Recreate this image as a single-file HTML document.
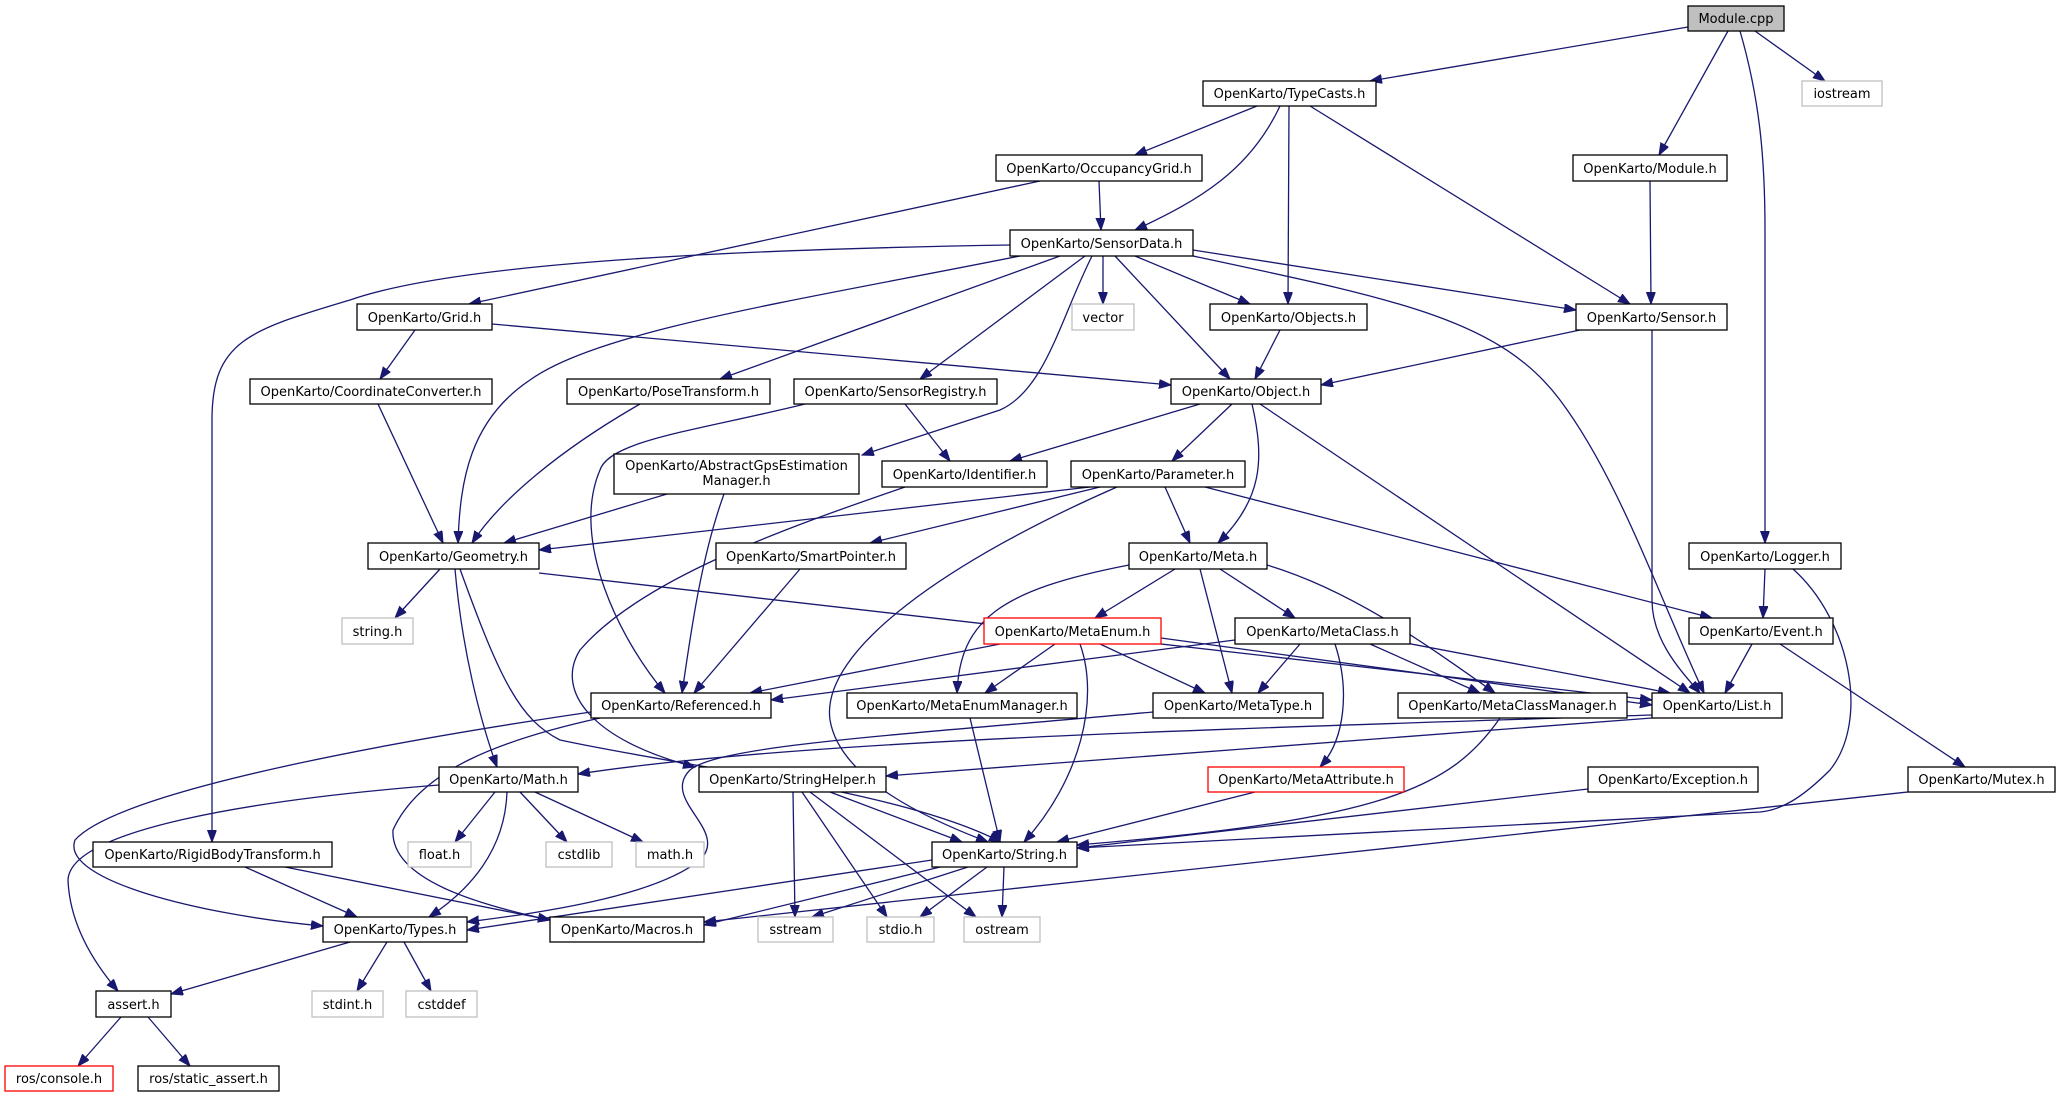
<!DOCTYPE html>
<html><head><meta charset="utf-8"><style>
html,body{margin:0;padding:0;background:#fff}
svg{display:block}
text{font-family:"DejaVu Sans","Liberation Sans",sans-serif;font-size:13px;fill:#000;text-anchor:middle}
.e{fill:none;stroke:#191970;stroke-width:1.3;marker-end:url(#a)}
.n{fill:#fff;stroke:#000;stroke-width:1.3}
.g{fill:#fff;stroke:#bfbfbf;stroke-width:1.3}
.r{fill:#fff;stroke:#ff0000;stroke-width:1.3}
</style></head><body>
<svg width="2059" height="1097" viewBox="0 0 2059 1097" xmlns="http://www.w3.org/2000/svg">
<defs><marker id="a" markerUnits="userSpaceOnUse" markerWidth="13" markerHeight="10" refX="12" refY="4.5" orient="auto"><path d="M0,0 L12,4.5 L0,9 z" fill="#191970" stroke="#191970"/></marker></defs>
<g>
<path class="e" d="M1688,27 L1370,81"/>
<path class="e" d="M1728,31 L1659,155"/>
<path class="e" d="M1755,31 L1825,81"/>
<path class="e" d="M1740,31 C1760,100 1765,160 1765,230 L1765,543"/>
<path class="e" d="M1257,106 L1135,155"/>
<path class="e" d="M1280,106 C1250,170 1200,200 1135,230"/>
<path class="e" d="M1289,106 L1288,304"/>
<path class="e" d="M1310,106 L1630,304"/>
<path class="e" d="M1099,181 L1101,230"/>
<path class="e" d="M1040,181 L469,304"/>
<path class="e" d="M1650,181 L1651,304"/>
<path class="e" d="M1010,245 C700,250 450,265 350,300 C250,330 212,340 212,420 L212,842"/>
<path class="e" d="M1020,256 C800,300 600,330 530,380 C470,420 460,480 458,543"/>
<path class="e" d="M1060,256 L720,379"/>
<path class="e" d="M1085,256 L920,379"/>
<path class="e" d="M1092,256 C1060,320 1045,390 1000,410 L862,455"/>
<path class="e" d="M1103,256 L1103,304"/>
<path class="e" d="M1115,256 L1230,379"/>
<path class="e" d="M1135,256 L1250,304"/>
<path class="e" d="M1193,250 L1576,310"/>
<path class="e" d="M1193,256 C1400,300 1500,320 1560,400 C1620,480 1660,600 1704,693"/>
<path class="e" d="M415,330 L380,379"/>
<path class="e" d="M492,324 L1171,385"/>
<path class="e" d="M1280,330 L1255,379"/>
<path class="e" d="M1580,330 L1321,385"/>
<path class="e" d="M1652,330 L1652,600 C1652,640 1680,670 1700,693"/>
<path class="e" d="M378,404 L443,543"/>
<path class="e" d="M640,404 C560,450 500,500 472,543"/>
<path class="e" d="M905,404 L950,461"/>
<path class="e" d="M805,404 C700,430 610,440 600,470 C570,540 620,640 665,693"/>
<path class="e" d="M667,494 L504,543"/>
<path class="e" d="M724,494 C700,560 690,640 682,693"/>
<path class="e" d="M1200,404 L1010,461"/>
<path class="e" d="M1232,404 L1172,461"/>
<path class="e" d="M1252,404 C1265,460 1262,500 1218,543"/>
<path class="e" d="M1260,404 L1690,693"/>
<path class="e" d="M905,487 C780,530 640,580 580,650 C555,690 590,740 695,767"/>
<path class="e" d="M1090,487 L539,550"/>
<path class="e" d="M1100,487 L870,543"/>
<path class="e" d="M1117,487 C950,560 820,650 830,720 C840,780 930,820 988,842"/>
<path class="e" d="M1165,487 L1190,543"/>
<path class="e" d="M1205,487 L1712,618"/>
<path class="e" d="M440,569 L395,618"/>
<path class="e" d="M455,569 C462,650 480,720 497,767"/>
<path class="e" d="M460,569 C500,680 520,720 560,740 C700,770 900,790 1001,842"/>
<path class="e" d="M539,573 L1652,700"/>
<path class="e" d="M800,569 L694,693"/>
<path class="e" d="M1175,569 L1095,618"/>
<path class="e" d="M1220,569 L1295,618"/>
<path class="e" d="M1200,569 L1232,693"/>
<path class="e" d="M1129,565 C1000,590 960,620 957,693"/>
<path class="e" d="M1267,565 C1350,590 1420,640 1495,693"/>
<path class="e" d="M1765,569 L1763,618"/>
<path class="e" d="M1793,569 C1850,620 1870,720 1830,770 C1800,800 1780,810 1760,812 L1077,848"/>
<path class="e" d="M1000,644 L750,693"/>
<path class="e" d="M1055,644 L985,693"/>
<path class="e" d="M1100,644 L1205,693"/>
<path class="e" d="M1080,644 C1100,700 1080,780 1024,842"/>
<path class="e" d="M1161,638 L1652,705"/>
<path class="e" d="M1235,640 L771,700"/>
<path class="e" d="M1300,644 L1258,693"/>
<path class="e" d="M1370,644 L1480,693"/>
<path class="e" d="M1390,640 L1670,693"/>
<path class="e" d="M1335,644 C1350,690 1345,740 1320,767"/>
<path class="e" d="M1752,644 L1725,693"/>
<path class="e" d="M1780,644 L1965,767"/>
<path class="e" d="M591,712 C400,740 120,790 75,840 C60,880 200,915 323,926"/>
<path class="e" d="M600,718 C500,740 420,770 393,830 C390,880 480,905 550,920"/>
<path class="e" d="M1153,712 C900,735 720,745 690,770 C660,800 730,830 700,860 C650,900 520,915 467,922"/>
<path class="e" d="M970,718 L1000,842"/>
<path class="e" d="M1500,718 C1450,790 1380,820 1077,845"/>
<path class="e" d="M1652,715 C1200,730 800,740 578,774"/>
<path class="e" d="M1652,718 L886,776"/>
<path class="e" d="M439,785 C250,800 70,830 68,880 C70,930 100,970 118,991"/>
<path class="e" d="M495,792 L455,842"/>
<path class="e" d="M520,792 L567,842"/>
<path class="e" d="M535,792 L643,842"/>
<path class="e" d="M507,792 C505,850 470,890 429,917"/>
<path class="e" d="M830,792 L962,842"/>
<path class="e" d="M793,792 L795,917"/>
<path class="e" d="M802,792 L887,917"/>
<path class="e" d="M810,792 L976,917"/>
<path class="e" d="M1255,792 L1057,842"/>
<path class="e" d="M1588,789 L1077,848"/>
<path class="e" d="M1908,792 L704,922"/>
<path class="e" d="M245,867 L357,917"/>
<path class="e" d="M285,867 L550,920"/>
<path class="e" d="M932,860 L467,930"/>
<path class="e" d="M940,867 L704,925"/>
<path class="e" d="M968,867 L812,917"/>
<path class="e" d="M987,867 L920,917"/>
<path class="e" d="M1004,867 L1002,917"/>
<path class="e" d="M350,942 L171,994"/>
<path class="e" d="M387,942 L357,991"/>
<path class="e" d="M404,942 L431,991"/>
<path class="e" d="M121,1017 L78,1066"/>
<path class="e" d="M148,1017 L190,1066"/>
</g>
<g>
<rect x="1688" y="6" width="96" height="25" fill="#bfbfbf" stroke="#000" stroke-width="1.3"/><text x="1736" y="23">Module.cpp</text>
<rect class="g" x="1802" y="81" width="80" height="25"/><text x="1842" y="98">iostream</text>
<rect class="n" x="1203" y="81" width="173" height="25"/><text x="1289.5" y="98">OpenKarto/TypeCasts.h</text>
<rect class="n" x="996" y="155" width="206" height="26"/><text x="1099" y="173">OpenKarto/OccupancyGrid.h</text>
<rect class="n" x="1573" y="155" width="154" height="26"/><text x="1650" y="173">OpenKarto/Module.h</text>
<rect class="n" x="1010" y="230" width="183" height="26"/><text x="1101.5" y="248">OpenKarto/SensorData.h</text>
<rect class="n" x="357" y="304" width="135" height="26"/><text x="424.5" y="322">OpenKarto/Grid.h</text>
<rect class="g" x="1072" y="304" width="62" height="26"/><text x="1103" y="322">vector</text>
<rect class="n" x="1210" y="304" width="157" height="26"/><text x="1288.5" y="322">OpenKarto/Objects.h</text>
<rect class="n" x="1576" y="304" width="151" height="26"/><text x="1651.5" y="322">OpenKarto/Sensor.h</text>
<rect class="n" x="250" y="379" width="242" height="25"/><text x="371" y="396">OpenKarto/CoordinateConverter.h</text>
<rect class="n" x="567" y="379" width="203" height="25"/><text x="668.5" y="396">OpenKarto/PoseTransform.h</text>
<rect class="n" x="794" y="379" width="203" height="25"/><text x="895.5" y="396">OpenKarto/SensorRegistry.h</text>
<rect class="n" x="1171" y="379" width="150" height="25"/><text x="1246" y="396">OpenKarto/Object.h</text>
<rect class="n" x="614" y="454" width="245" height="40"/><text x="736.5" y="470">OpenKarto/AbstractGpsEstimation</text><text x="736.5" y="485">Manager.h</text>
<rect class="n" x="882" y="461" width="165" height="26"/><text x="964.5" y="479">OpenKarto/Identifier.h</text>
<rect class="n" x="1071" y="461" width="174" height="26"/><text x="1158" y="479">OpenKarto/Parameter.h</text>
<rect class="n" x="368" y="543" width="171" height="26"/><text x="453.5" y="561">OpenKarto/Geometry.h</text>
<rect class="n" x="716" y="543" width="190" height="26"/><text x="811" y="561">OpenKarto/SmartPointer.h</text>
<rect class="n" x="1129" y="543" width="138" height="26"/><text x="1198" y="561">OpenKarto/Meta.h</text>
<rect class="n" x="1689" y="543" width="152" height="26"/><text x="1765" y="561">OpenKarto/Logger.h</text>
<rect class="g" x="342" y="618" width="71" height="26"/><text x="377.5" y="636">string.h</text>
<rect class="r" x="984" y="618" width="177" height="26"/><text x="1072.5" y="636">OpenKarto/MetaEnum.h</text>
<rect class="n" x="1235" y="618" width="175" height="26"/><text x="1322.5" y="636">OpenKarto/MetaClass.h</text>
<rect class="n" x="1689" y="618" width="144" height="26"/><text x="1761" y="636">OpenKarto/Event.h</text>
<rect class="n" x="591" y="693" width="180" height="25"/><text x="681" y="710">OpenKarto/Referenced.h</text>
<rect class="n" x="847" y="693" width="230" height="25"/><text x="962" y="710">OpenKarto/MetaEnumManager.h</text>
<rect class="n" x="1153" y="693" width="170" height="25"/><text x="1238" y="710">OpenKarto/MetaType.h</text>
<rect class="n" x="1398" y="693" width="229" height="25"/><text x="1512.5" y="710">OpenKarto/MetaClassManager.h</text>
<rect class="n" x="1652" y="693" width="130" height="25"/><text x="1717" y="710">OpenKarto/List.h</text>
<rect class="n" x="439" y="767" width="139" height="25"/><text x="508.5" y="784">OpenKarto/Math.h</text>
<rect class="n" x="699" y="767" width="187" height="25"/><text x="792.5" y="784">OpenKarto/StringHelper.h</text>
<rect class="r" x="1208" y="767" width="196" height="25"/><text x="1306" y="784">OpenKarto/MetaAttribute.h</text>
<rect class="n" x="1588" y="767" width="170" height="25"/><text x="1673" y="784">OpenKarto/Exception.h</text>
<rect class="n" x="1908" y="767" width="147" height="25"/><text x="1981.5" y="784">OpenKarto/Mutex.h</text>
<rect class="n" x="93" y="842" width="239" height="25"/><text x="212.5" y="859">OpenKarto/RigidBodyTransform.h</text>
<rect class="g" x="408" y="842" width="63" height="25"/><text x="439.5" y="859">float.h</text>
<rect class="g" x="546" y="842" width="66" height="25"/><text x="579" y="859">cstdlib</text>
<rect class="g" x="636" y="842" width="68" height="25"/><text x="670" y="859">math.h</text>
<rect class="n" x="932" y="842" width="145" height="25"/><text x="1004.5" y="859">OpenKarto/String.h</text>
<rect class="n" x="323" y="917" width="144" height="25"/><text x="395" y="934">OpenKarto/Types.h</text>
<rect class="n" x="550" y="917" width="154" height="25"/><text x="627" y="934">OpenKarto/Macros.h</text>
<rect class="g" x="758" y="917" width="75" height="25"/><text x="795.5" y="934">sstream</text>
<rect class="g" x="867" y="917" width="67" height="25"/><text x="900.5" y="934">stdio.h</text>
<rect class="g" x="964" y="917" width="76" height="25"/><text x="1002" y="934">ostream</text>
<rect class="n" x="96" y="991" width="75" height="26"/><text x="133.5" y="1009">assert.h</text>
<rect class="g" x="312" y="991" width="71" height="26"/><text x="347.5" y="1009">stdint.h</text>
<rect class="g" x="406" y="991" width="71" height="26"/><text x="441.5" y="1009">cstddef</text>
<rect class="r" x="5" y="1066" width="108" height="25"/><text x="59" y="1083">ros/console.h</text>
<rect class="n" x="138" y="1066" width="141" height="25"/><text x="208.5" y="1083">ros/static_assert.h</text>
</g>
</svg>
</body></html>
